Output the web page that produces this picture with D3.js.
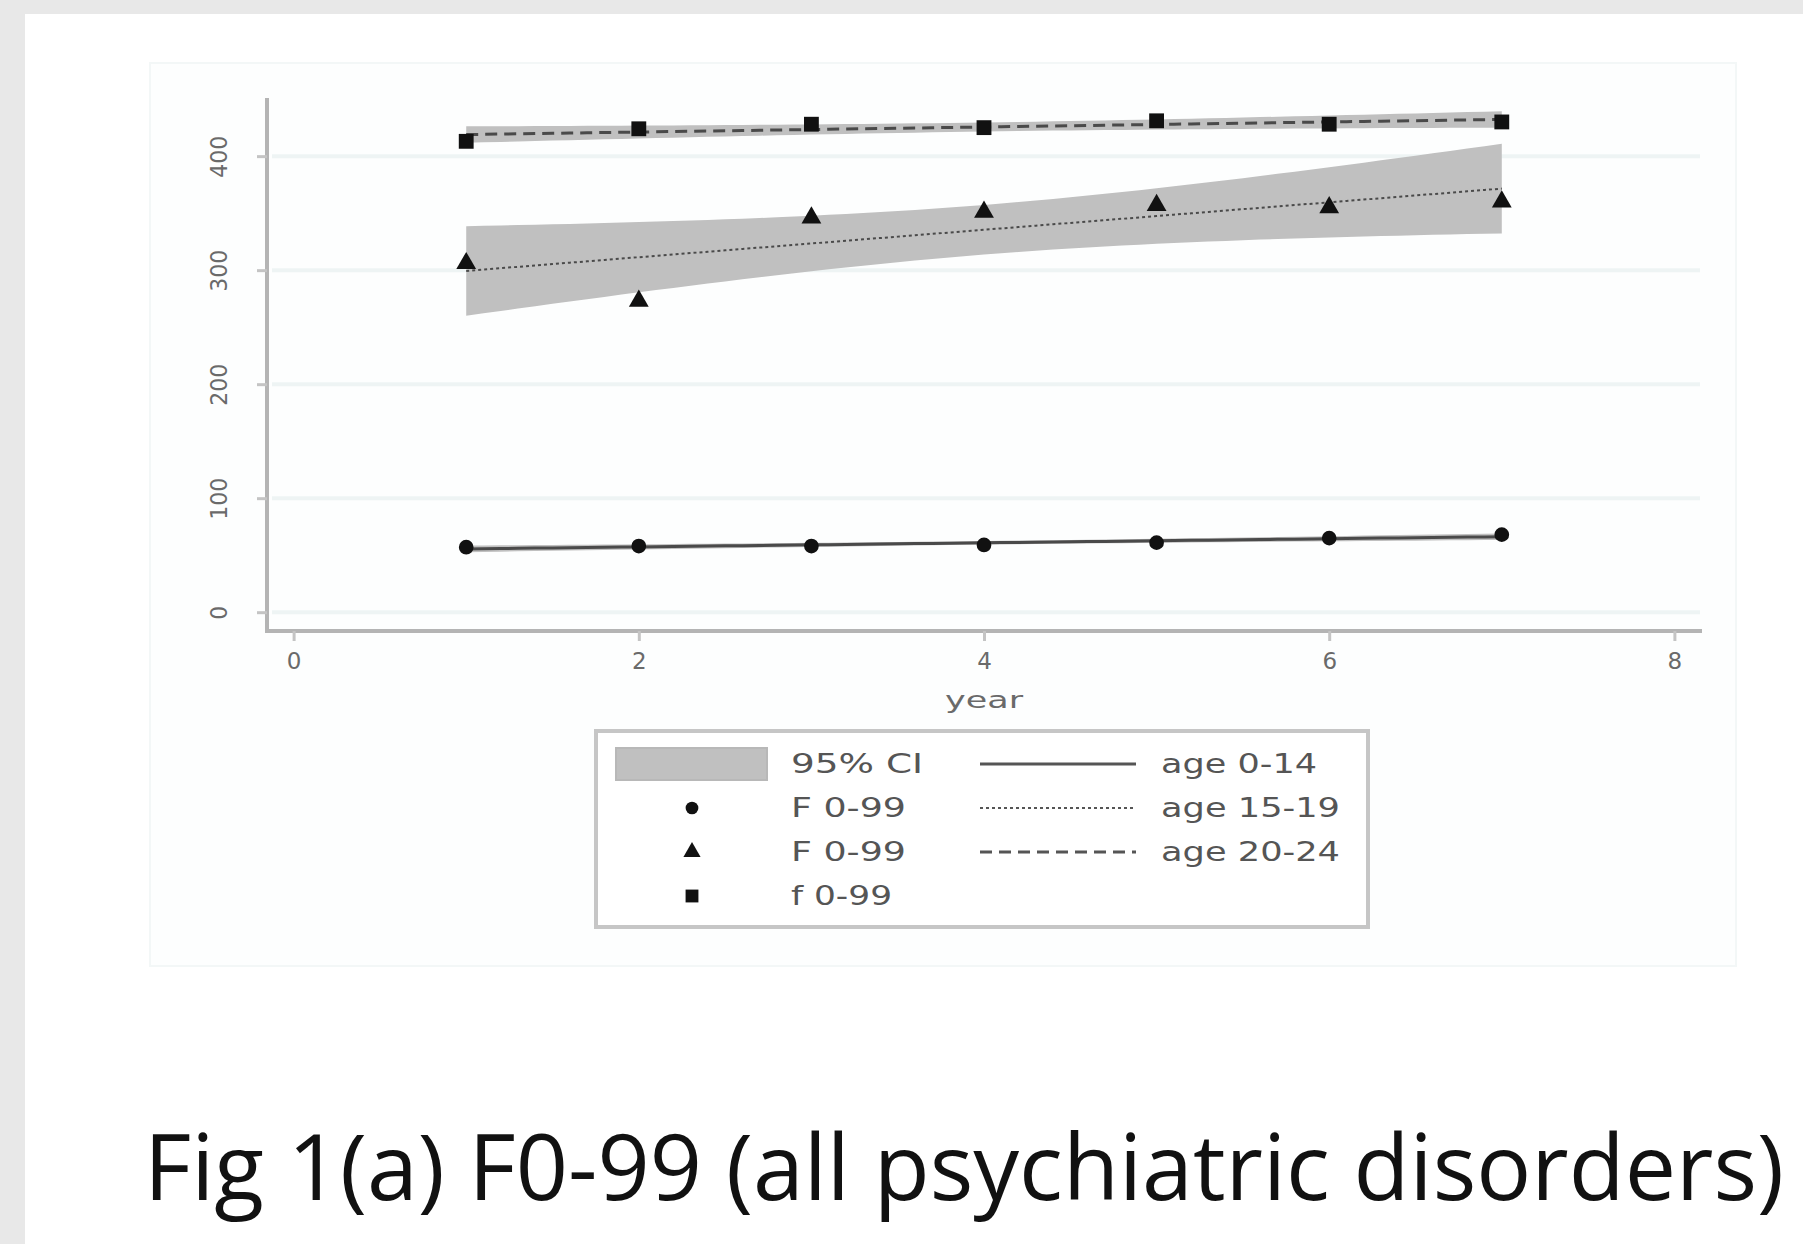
<html>
<head>
  <meta charset="utf-8" />
  <script src="https://d3js.org/d3.v7.min.js"></script>
</head>
<body style="margin: 0; background: #e8e8e8">
<script>

// values
let years = [1, 2, 3, 4, 5, 6, 7]
let age0_14 = [57, 58, 58, 59, 61, 65, 68]
let age15_19 = [306, 273, 346, 351, 357, 355, 360]
let age20_24 = [413, 424, 428, 425, 431, 428, 430]
let xTicks = [0, 2, 4, 6, 8]
let yTicks = [0, 100, 200, 300, 400]
let legendLeft = [["95% CI", 132], ["F 0-99", 115], ["F 0-99", 115], ["f 0-99", 101]]
let legendRight = [["age 0-14", 156], ["age 15-19", 179], ["age 20-24", 179]]
let caption = "Fig 1(a) F0-99 (all psychiatric disorders)"

let width = 1803, height = 1244

var svg = d3.select("body").append("svg")
  .attr("width", width)
  .attr("height", height)
  .style("display", "block")

svg.append("rect").attr("x", 25).attr("y", 14)
  .attr("width", width - 25).attr("height", height - 14).attr("fill", "white")

// faint graph region
svg.append("rect").attr("x", 150).attr("y", 63).attr("width", 1586).attr("height", 903)
  .attr("fill", "#fdfefe").attr("stroke", "#f3f7f7").attr("stroke-width", 2)

let x = d3.scaleLinear().domain([-0.16, 8.16]).range([266, 1702])
let y = d3.scaleLinear().domain([-16.5, 451]).range([631, 98])

// grid
svg.append("g").selectAll("line").data(yTicks).enter().append("line")
  .attr("x1", 272).attr("x2", 1700)
  .attr("y1", d => y(d)).attr("y2", d => y(d))
  .attr("stroke", "#eef4f4").attr("stroke-width", 4)

// linear fit with 95% CI (like Stata lfitci)
function lfitci(xs, ys) {
  let n = xs.length
  let mx = d3.mean(xs), my = d3.mean(ys)
  let sxx = d3.sum(xs, v => (v - mx) * (v - mx))
  let b = d3.sum(xs.map((v, i) => (v - mx) * (ys[i] - my))) / sxx
  let a = my - b * mx
  let s = Math.sqrt(d3.sum(xs.map((v, i) => Math.pow(ys[i] - a - b * v, 2))) / (n - 2))
  let t = 2.571
  let grid = d3.range(xs[0], xs[n - 1] + 0.001, 0.1)
  return grid.map(g => {
    let f = a + b * g
    let h = t * s * Math.sqrt(1 / n + (g - mx) * (g - mx) / sxx)
    return {x: g, f: f, lo: f - h, hi: f + h}
  })
}

let series = [
  {vals: age0_14, dash: null, width: 3, sym: d3.symbolCircle, size: 170},
  {vals: age15_19, dash: "3,3", width: 2, sym: d3.symbolTriangle, size: 170},
  {vals: age20_24, dash: "12,7", width: 3, sym: d3.symbolSquare, size: 220}
]

let area = d3.area().x(d => x(d.x)).y0(d => y(d.lo)).y1(d => y(d.hi))
let line = d3.line().x(d => x(d.x)).y(d => y(d.f))

series.forEach(s => { s.fit = lfitci(years, s.vals) })

series.forEach(s => {
  svg.append("path").attr("d", area(s.fit)).attr("fill", "#c0c0c0")
})
series.forEach(s => {
  svg.append("path").attr("d", line(s.fit)).attr("fill", "none")
    .attr("stroke", "#4a4a4a").attr("stroke-width", s.width)
    .attr("stroke-dasharray", s.dash)
})
series.forEach(s => {
  svg.append("g").selectAll("path").data(s.vals).enter().append("path")
    .attr("d", d3.symbol().type(s.sym).size(s.size))
    .attr("transform", (d, i) => "translate(" + x(years[i]) + "," + y(d) + ")")
    .attr("fill", "#111")
})

// axes
let xAxis = svg.append("g").attr("transform", "translate(0,631)")
  .call(d3.axisBottom(x).tickValues(xTicks).tickSize(10).tickPadding(12))
let yAxis = svg.append("g").attr("transform", "translate(267,0)")
  .call(d3.axisLeft(y).tickValues(yTicks).tickSize(10))

;[xAxis, yAxis].forEach(a => {
  a.select(".domain").attr("stroke", "#b4b4b4").attr("stroke-width", 4)
  a.selectAll(".tick line").attr("stroke", "#c4c4c4").attr("stroke-width", 3)
  a.selectAll("text").attr("fill", "#6a6a6a").attr("font-family", "DejaVu Sans")
    .attr("font-size", 23)
})
xAxis.select(".domain").attr("d", "M266,0H1702")
yAxis.select(".domain").attr("d", "M0,98V633")
yAxis.selectAll("text")
  .attr("x", 0).attr("y", -40).attr("dy", 0)
  .attr("transform", "rotate(-90)")
  .attr("text-anchor", "middle")
  .attr("textLength", d => d == 0 ? 14 : 42)
  .attr("lengthAdjust", "spacingAndGlyphs")

svg.append("text").attr("x", 984).attr("y", 708).attr("text-anchor", "middle")
  .attr("font-family", "DejaVu Sans").attr("font-size", 23).attr("fill", "#6a6a6a")
  .attr("textLength", 78).attr("lengthAdjust", "spacingAndGlyphs")
  .text("year")

// legend
let lg = svg.append("g")
lg.append("rect").attr("x", 596).attr("y", 731).attr("width", 772).attr("height", 196)
  .attr("fill", "white").attr("stroke", "#c6c6c6").attr("stroke-width", 4)
let rowY = [764, 808, 852, 896]
lg.append("rect").attr("x", 616).attr("y", 748).attr("width", 151).attr("height", 32)
  .attr("fill", "#c0c0c0").attr("stroke", "#b8b8b8").attr("stroke-width", 2)
series.forEach((s, i) => {
  lg.append("path").attr("d", d3.symbol().type(s.sym).size(s.size * 0.75))
    .attr("transform", "translate(692," + rowY[i + 1] + ")").attr("fill", "#111")
  lg.append("line").attr("x1", 980).attr("x2", 1136)
    .attr("y1", rowY[i]).attr("y2", rowY[i])
    .attr("stroke", "#555").attr("stroke-width", s.width)
    .attr("stroke-dasharray", s.dash)
})
lg.selectAll(".ll").data(legendLeft).enter().append("text")
  .attr("x", 791).attr("y", (d, i) => rowY[i] + 9)
  .attr("textLength", d => d[1]).attr("lengthAdjust", "spacingAndGlyphs")
  .attr("font-family", "DejaVu Sans").attr("font-size", 26).attr("fill", "#555")
  .text(d => d[0])
lg.selectAll(".lr").data(legendRight).enter().append("text")
  .attr("x", 1161).attr("y", (d, i) => rowY[i] + 9)
  .attr("textLength", d => d[1]).attr("lengthAdjust", "spacingAndGlyphs")
  .attr("font-family", "DejaVu Sans").attr("font-size", 26).attr("fill", "#555")
  .text(d => d[0])

// caption
svg.append("text").attr("x", 144).attr("y", 1200)
  .attr("font-family", "Open Sans").attr("font-size", 92).attr("fill", "#111")
  .attr("textLength", 1640).attr("lengthAdjust", "spacingAndGlyphs")
  .text(caption)

</script>
</body>
</html>
